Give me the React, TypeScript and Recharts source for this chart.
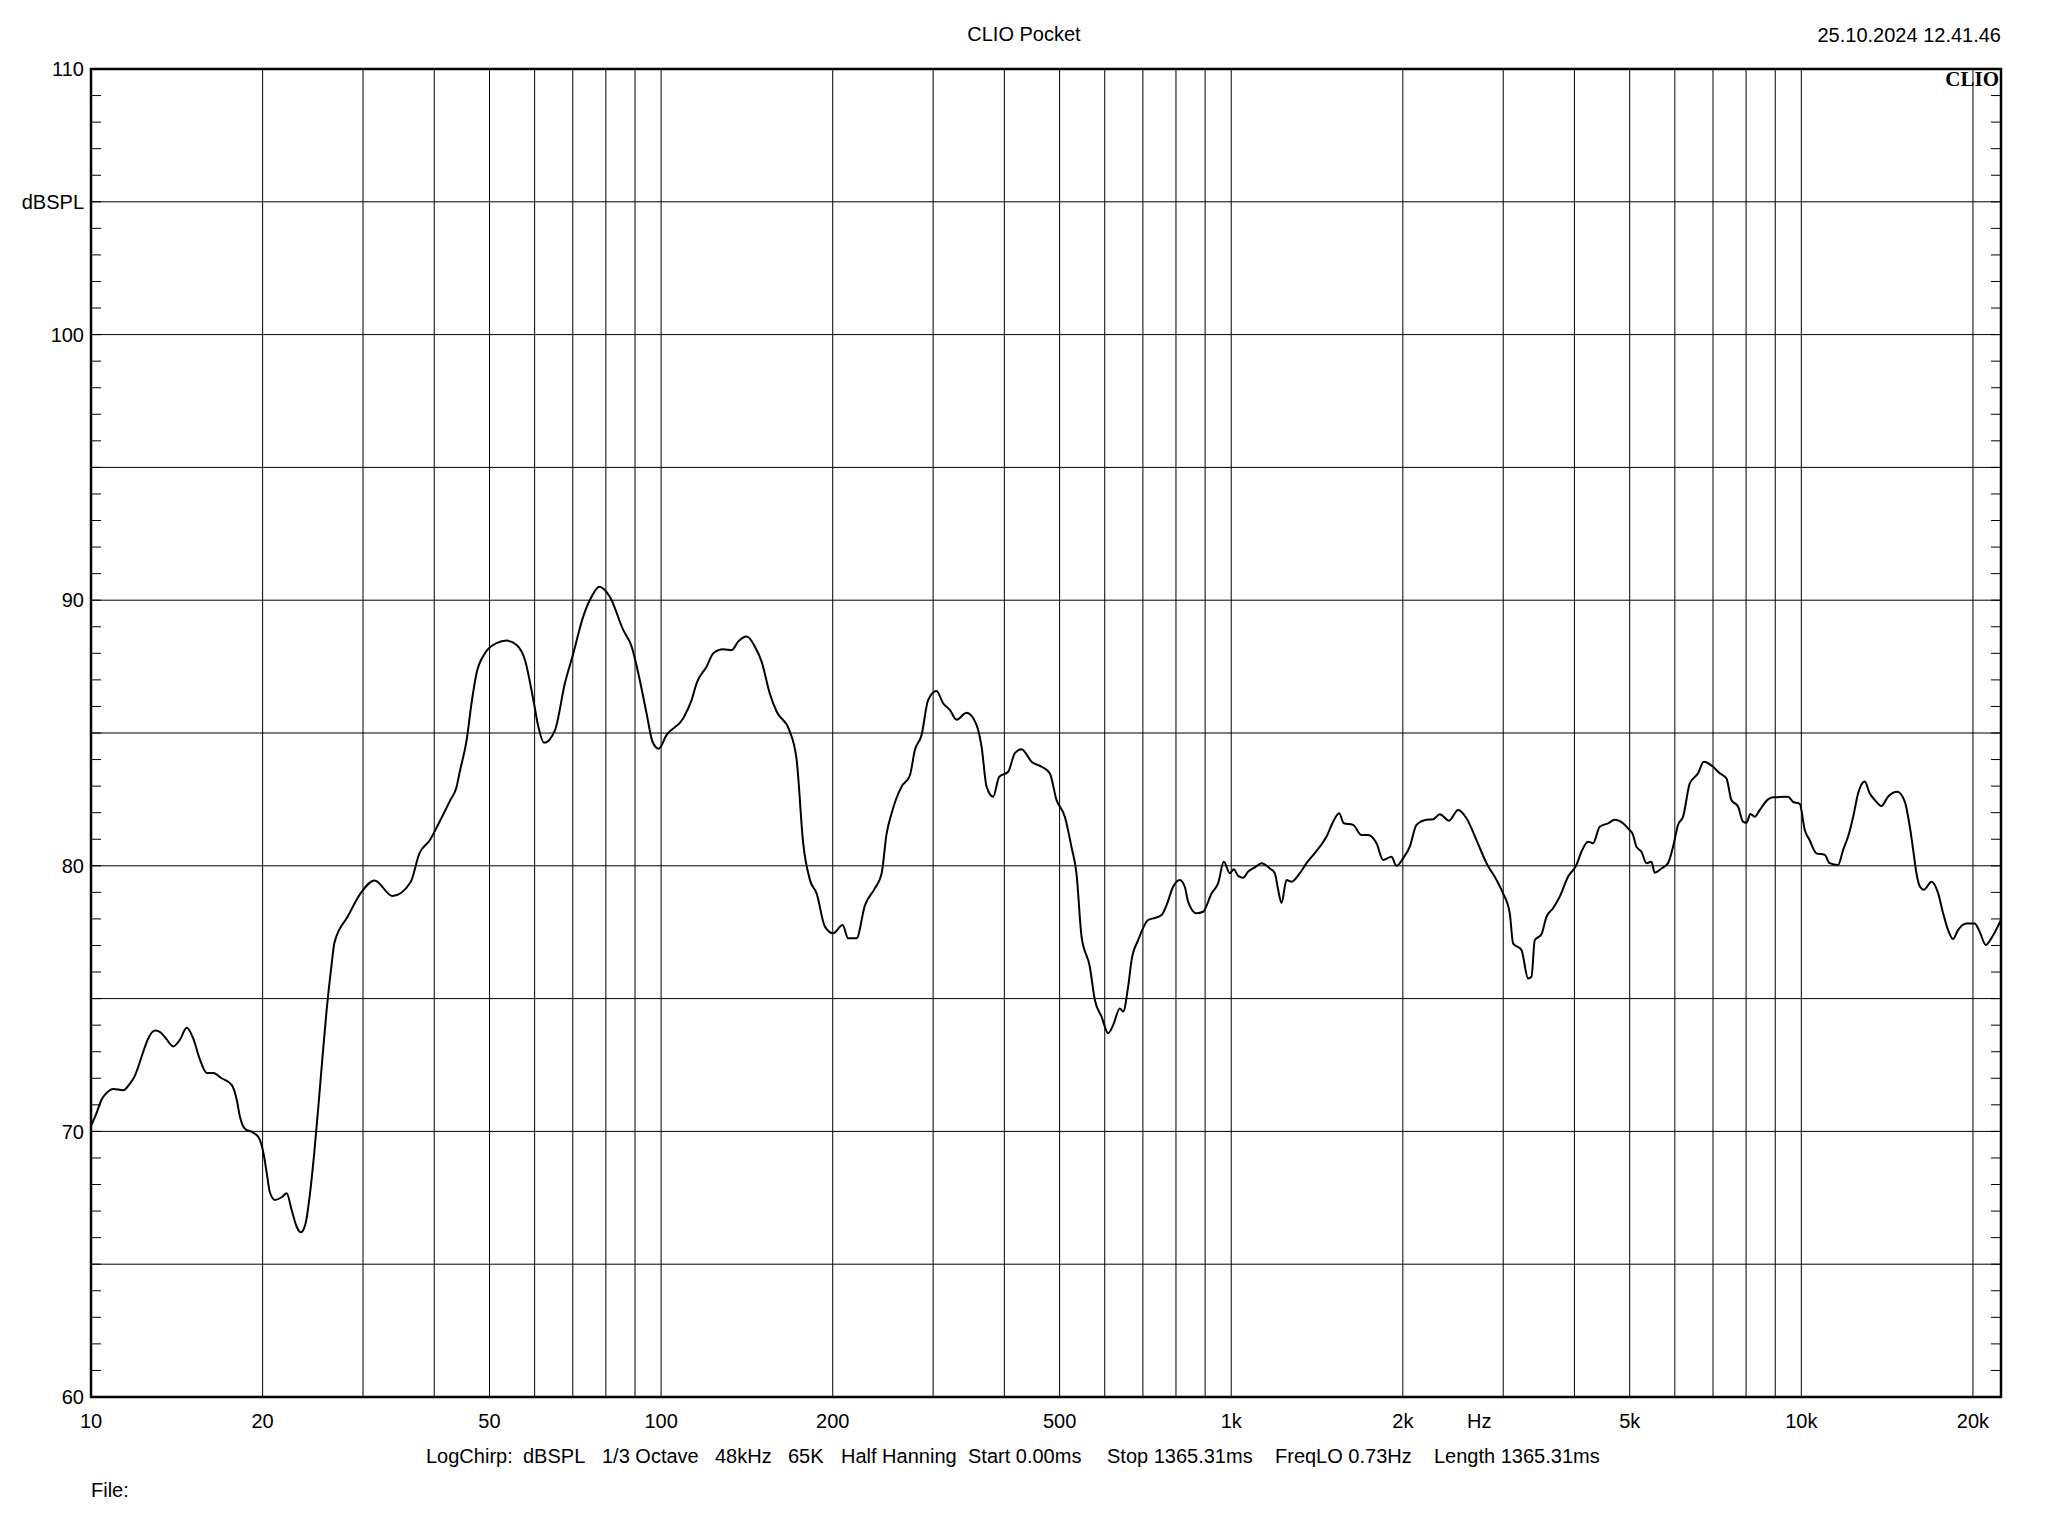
import React from 'react';
import { LineChart, Line, XAxis, YAxis, CartesianGrid, ReferenceArea } from 'recharts';

// frequency response (Hz / dBSPL)
const FREQ_HZ = [
  10.0, 10.23, 10.44, 10.65, 10.94, 11.39, 11.7, 11.94, 12.11, 12.35, 12.6, 12.95, 13.2, 13.48, 13.94,
  14.32, 14.72, 15.11, 15.53, 15.96, 16.39, 16.95, 17.65, 18.01, 18.25, 18.62, 19.26, 19.71, 20.06, 20.33,
  20.6, 21.02, 21.6, 22.04, 22.49, 22.95, 23.35, 23.8, 24.22, 24.64, 25.04, 25.45, 25.91, 26.4, 26.73,
  28.22, 29.79, 31.43, 33.8, 36.33, 37.66, 39.31, 40.45, 42.7, 43.79, 44.3, 45.6, 46.5, 47.45, 49.09,
  51.45, 53.58, 55.8, 57.7, 59.7, 60.9, 62.37, 65.15, 67.8, 70.15, 73.0, 75.5, 77.9, 81.3, 85.8,
  88.8, 91.2, 94.3, 96.6, 99.0, 102.2, 109.3, 113.1, 115.4, 120.2, 123.5, 128.5, 133.0, 136.5, 141.3,
  146.1, 150.1, 155.1, 159.5, 167.8, 172.9, 177.5, 182.4, 187.4, 193.8, 200.4, 208.1, 212.9, 220.2, 227.7,
  237.1, 243.6, 248.6, 253.7, 264.1, 273.1, 278.7, 286.3, 294.0, 304.1, 312.4, 321.0, 329.8, 343.4, 357.6,
  364.9, 372.3, 382.3, 391.7, 406.2, 417.4, 428.8, 446.5, 464.9, 480.6, 493.8, 510.7, 524.7, 535.4, 546.4,
  564.9, 576.5, 592.3, 608.3, 620.7, 637.7, 646.3, 659.5, 668.7, 686.7, 715.1, 729.5, 754.7, 770.1, 790.8,
  812.5, 829.1, 840.1, 869.2, 892.6, 923.6, 948.4, 970.6, 994.4, 1010.6, 1028.3, 1049.3, 1070.7, 1100.1, 1130.2,
  1168.7, 1192.6, 1208.6, 1225.3, 1250.3, 1275.8, 1319.3, 1355.5, 1392.1, 1430.3, 1469.5, 1509.2, 1546.2, 1575.8, 1636.1,
  1692.6, 1738.3, 1798.3, 1846.8, 1910.5, 1949.5, 2002.2, 2057.1, 2113.5, 2200.6, 2260, 2321.9, 2410.8, 2500, 2586.3,
  2692.8, 2803.8, 2919.4, 2998.2, 3080.4, 3121.7, 3229.4, 3316.6, 3362.5, 3407.5, 3500.8, 3572.2, 3668.7, 3769.3, 3897.7,
  4032.2, 4114.5, 4225.6, 4311.8, 4430.1, 4581.1, 4706.8, 4867.2, 4966, 5068, 5137, 5243, 5349, 5458, 5532,
  5684, 5838, 5957, 6079, 6203, 6373, 6590, 6743, 7002, 7193, 7390, 7540, 7745, 7904, 8012,
  8143, 8286, 8453, 8743, 8922, 9478, 9672, 9936, 10140, 10340, 10630, 10990, 11210, 11600, 11840,
  12080, 12330, 12580, 12920, 13180, 13450, 13820, 14190, 14740, 15190, 15500, 15710, 15920, 16140, 16400,
  16920, 17380, 17730, 18090, 18450, 18830, 19470, 20140, 20550, 21060, 21540, 22400,
];

const SPL_DB = [
  70.2, 70.7, 71.2, 71.45, 71.6, 71.55, 71.8, 72.1, 72.45, 73.0, 73.5, 73.8, 73.75, 73.55, 73.2,
  73.45, 73.9, 73.5, 72.7, 72.2, 72.2, 72.0, 71.75, 71.2, 70.55, 70.1, 69.95, 69.75, 69.2, 68.45,
  67.7, 67.42, 67.52, 67.67, 67.04, 66.41, 66.2, 66.55, 67.67, 69.2, 70.9, 72.7, 74.6, 76.2, 77.1,
  78.1, 79.0, 79.45, 78.86, 79.37, 80.46, 80.97, 81.47, 82.48, 82.98, 83.5, 84.74, 86.12, 87.25, 88.0,
  88.38, 88.48, 88.31, 87.75, 86.24, 85.24, 84.63, 85.11, 86.87, 88.0, 89.38, 90.13, 90.51, 90.13, 88.88,
  88.25, 87.25, 85.74, 84.67, 84.41, 84.92, 85.55, 86.24, 86.87, 87.5, 88.0, 88.15, 88.12, 88.44, 88.63,
  88.25, 87.68, 86.49, 85.8, 85.11, 83.98, 80.85, 79.47, 78.96, 77.71, 77.46, 77.77, 77.27, 77.27, 78.5,
  79.15, 79.7, 81.2, 81.98, 82.98, 83.4, 84.36, 84.92, 86.24, 86.58, 86.12, 85.87, 85.5, 85.76, 85.3,
  84.48, 82.98, 82.6, 83.35, 83.54, 84.24, 84.39, 83.92, 83.73, 83.48, 82.48, 81.85, 80.7, 79.7, 77.33,
  76.2, 74.95, 74.32, 73.7, 74.0, 74.63, 74.51, 75.45, 76.45, 77.2, 77.96, 78.02, 78.15, 78.52, 79.21,
  79.47, 79.21, 78.65, 78.21, 78.27, 78.96, 79.34, 80.15, 79.72, 79.87, 79.62, 79.55, 79.78, 79.94, 80.1,
  79.9, 79.72, 79.1, 78.6, 79.47, 79.4, 79.72, 80.1, 80.4, 80.72, 81.1, 81.66, 81.98, 81.6, 81.54,
  81.16, 81.16, 80.85, 80.22, 80.34, 80.0, 80.28, 80.72, 81.54, 81.73, 81.75, 81.94, 81.7, 82.1, 81.79,
  80.97, 80.1, 79.47, 78.96, 78.21, 77.08, 76.83, 75.76, 75.82, 77.2, 77.42, 78.08, 78.4, 78.84, 79.59,
  80.03, 80.53, 80.91, 80.85, 81.47, 81.6, 81.73, 81.6, 81.41, 81.16, 80.72, 80.53, 80.1, 80.15, 79.74,
  79.9, 80.1, 80.72, 81.54, 81.85, 83.1, 83.48, 83.92, 83.73, 83.48, 83.29, 82.48, 82.23, 81.66, 81.62,
  81.95, 81.85, 82.1, 82.5, 82.58, 82.6, 82.41, 82.33, 81.35, 80.97, 80.47, 80.41, 80.1, 80.03, 80.6,
  81.1, 81.85, 82.73, 83.17, 82.73, 82.48, 82.25, 82.6, 82.79, 82.41, 81.47, 80.6, 79.72, 79.22, 79.1,
  79.4, 78.96, 78.21, 77.58, 77.24, 77.58, 77.83, 77.83, 77.52, 77.02, 77.27, 77.96,
];

const X_TICKS = [10, 20, 50, 100, 200, 500, 1000, 2000, 5000, 10000, 20000];
const X_GRID = [
  20, 30, 40, 50, 60, 70, 80, 90, 100, 200, 300, 400, 500, 600, 700, 800, 900,
  1000, 2000, 3000, 4000, 5000, 6000, 7000, 8000, 9000, 10000, 20000,
];
const Y_GRID = [65, 70, 75, 80, 85, 90, 95, 100, 105];
const Y_LABEL_VALUES = [60, 70, 80, 90, 100, 105, 110];
const Y_LABEL_TEXT = ['60', '70', '80', '90', '100', 'dBSPL', '110'];
const Y_MINOR = Array.from({ length: 51 }, (_, i) => 60 + i);

const TITLE = 'CLIO Pocket';
const STAMP = '25.10.2024 12.41.46';
const FOOTER_FIELDS = [
  'LogChirp:', 'dBSPL', '1/3 Octave', '48kHz', '65K', 'Half Hanning',
  'Start 0.00ms', 'Stop 1365.31ms', 'FreqLO 0.73Hz', 'Length 1365.31ms',
];
const FOOTER_X = [426, 523, 602, 715, 788, 841, 968, 1107, 1275, 1434];

const SANS = '"Liberation Sans", Arial, sans-serif';
const FS = 20;

const data = FREQ_HZ.map((f, i) => ({ f, db: SPL_DB[i] }));

const fmtHz = (v: number) => (v >= 1000 ? `${v / 1000}k` : `${v}`);

const LeftTick = (p: any) => {
  const v = p.payload.value;
  const i = Y_LABEL_VALUES.indexOf(v);
  return (
    <g>
      <line x1={p.x} y1={p.y} x2={p.x + 10} y2={p.y} stroke="#000" strokeWidth={1} />
      {i >= 0 && (
        <text x={p.x - 7} y={p.y} dy="0.36em" textAnchor="end" fill="#000" fontSize={FS} fontFamily={SANS}>
          {Y_LABEL_TEXT[i]}
        </text>
      )}
    </g>
  );
};

const RightTick = (p: any) => (
  <line x1={p.x} y1={p.y} x2={p.x - 10} y2={p.y} stroke="#000" strokeWidth={1} />
);

export default function App() {
  return (
    <div style={{ position: 'absolute', left: 0, top: 0, width: 2048, height: 1536, background: '#fff' }}>
      <LineChart width={2048} height={1536} data={data} margin={{ top: 69, right: 0, bottom: 109, left: 0 }}>
        <CartesianGrid
          horizontalValues={Y_GRID}
          verticalValues={X_GRID}
          stroke="#000"
          strokeWidth={1}
          strokeOpacity={1}
        />
        <XAxis
          dataKey="f"
          type="number"
          scale="log"
          domain={[10, 22400]}
          allowDataOverflow
          ticks={X_TICKS}
          interval={0}
          tickFormatter={fmtHz}
          axisLine={false}
          tickLine={false}
          tickSize={0}
          tickMargin={17}
          height={30}
          tick={{ fill: '#000', fontSize: FS, fontFamily: SANS }}
        />
        <YAxis
          type="number"
          domain={[60, 110]}
          allowDataOverflow
          ticks={Y_MINOR}
          interval={0}
          width={91}
          axisLine={false}
          tickLine={false}
          tickSize={0}
          tickMargin={0}
          tick={LeftTick}
        />
        <YAxis
          yAxisId="r"
          orientation="right"
          type="number"
          domain={[60, 110]}
          allowDataOverflow
          ticks={Y_MINOR}
          interval={0}
          width={47}
          axisLine={false}
          tickLine={false}
          tickSize={0}
          tickMargin={0}
          tick={RightTick}
        />
        <Line
          dataKey="db"
          type="monotone"
          stroke="#000"
          strokeWidth={2}
          dot={false}
          activeDot={false}
          isAnimationActive={false}
        />
        <ReferenceArea
          x1={10}
          x2={22400}
          y1={60}
          y2={110}
          fill="none"
          stroke="#000"
          strokeWidth={2.5}
          ifOverflow="visible"
        />
      </LineChart>
      <svg
        width={2048}
        height={1536}
        style={{ position: 'absolute', left: 0, top: 0, pointerEvents: 'none' }}
        fontFamily={SANS}
        fontSize={FS}
        fill="#000"
      >
        <text x={1024} y={41} textAnchor="middle">{TITLE}</text>
        <text x={2001} y={42} textAnchor="end">{STAMP}</text>
        <text x={1999} y={86} textAnchor="end" fontFamily='"Liberation Serif", "Times New Roman", serif' fontWeight="bold" fontSize={21}>
          CLIO
        </text>
        <text x={1467} y={1428}>Hz</text>
        {FOOTER_FIELDS.map((t, i) => (
          <text key={t} x={FOOTER_X[i]} y={1463}>{t}</text>
        ))}
        <text x={91} y={1497}>File:</text>
      </svg>
    </div>
  );
}
